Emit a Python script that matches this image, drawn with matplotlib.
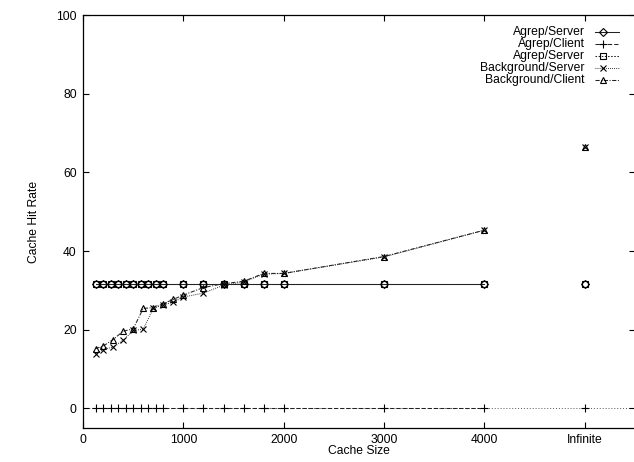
import matplotlib
matplotlib.use('Agg')
import matplotlib.pyplot as plt

plt.rcParams['font.family'] = ['Liberation Sans', 'DejaVu Sans']

# ── Data ──
agrep_sizes = [125, 200, 275, 350, 425, 500, 575, 650, 725, 800,
               1000, 1200, 1400, 1600, 1800, 2000, 3000, 4000]
bg_sizes = [125, 200, 300, 400, 500, 600, 700, 800, 900, 1000,
            1200, 1400, 1600, 1800, 2000, 3000, 4000]
infinite_x = 5000

agrep_server = [31.5] * len(agrep_sizes)
agrep_client = [0.0] * len(agrep_sizes)
agrep_server2 = [31.5] * len(agrep_sizes)
bg_server = [13.9, 14.9, 15.6, 17.3, 19.8, 20.1, 25.4, 26.3, 27.0, 28.3,
             29.3, 31.3, 32.1, 34.1, 34.3, 38.5, 45.3]
bg_client = [15.2, 15.8, 17.5, 19.6, 20.2, 25.4, 25.6, 26.6, 27.7, 28.8,
             30.7, 31.7, 32.3, 34.3, 34.3, 38.6, 45.3]

# values at "Infinite" cache size
inf_values = [31.5, 0.0, 31.5, 66.5, 66.5]

labels = ["Agrep/Server", "Agrep/Client", "Agrep/Server",
          "Background/Server", "Background/Client"]
xticks = [0, 1000, 2000, 3000, 4000, 5000]
xtick_labels = ["0", "1000", "2000", "3000", "4000", "Infinite"]
yticks = [0, 20, 40, 60, 80, 100]

# ── Styles (gnuplot-like) ──
styles = [
    dict(marker='D', ls='-', ms=4),
    dict(marker='+', ls=(0, (4, 2)), ms=5.5),
    dict(marker='s', ls=(0, (1.5, 1.5)), ms=4.8),
    dict(marker='x', ls=(0, (0.8, 1.2)), ms=4.8),
    dict(marker='^', ls=(0, (4, 1.5, 1, 1.5)), ms=5),
]
series = [(agrep_sizes, agrep_server), (agrep_sizes, agrep_client),
          (agrep_sizes, agrep_server2), (bg_sizes, bg_server),
          (bg_sizes, bg_client)]

fs = 8.7

fig = plt.figure(figsize=(6.34, 4.62), dpi=100)
ax = fig.add_axes([83 / 634, 34 / 462, 552 / 634, 413 / 462])

# dotted zero axis
ax.axhline(0, color='#555', lw=0.7, ls=(0, (1, 2)), zorder=1)

for (xs, vals), st in zip(series, styles):
    ax.plot(xs, vals, color='#222', lw=0.75, ls=st['ls'],
            marker=st['marker'], ms=st['ms'], mfc='none', mec='black',
            mew=0.8, zorder=3)

for v, st in zip(inf_values, styles):
    ax.plot([infinite_x], [v], ls='none', marker=st['marker'], ms=st['ms'],
            mfc='none', mec='black', mew=0.8, zorder=3)

ax.set_xlim(0, 5500)
ax.set_ylim(-5, 100)
ax.set_xticks(xticks)
ax.set_xticklabels(xtick_labels)
ax.set_yticks(yticks)
ax.tick_params(direction='in', length=4.5, width=0.8, labelsize=fs,
               top=True, right=True, pad=4.5)
for sp in ax.spines.values():
    sp.set_linewidth(0.9)

ax.set_xlabel("Cache Size", fontsize=fs, labelpad=-1)
ax.set_ylabel("Cache Hit Rate", fontsize=fs, labelpad=12)

# ── Legend (gnuplot style: right-aligned text, sample on the right) ──
for i, (lab, st) in enumerate(zip(labels, styles)):
    y = 0.958 - i * 0.029
    ax.text(0.909, y, lab, transform=ax.transAxes, ha='right', va='center',
            fontsize=fs)
    ax.plot([0.9275, 0.971], [y, y], transform=ax.transAxes, color='#222',
            lw=0.75, ls=st['ls'], clip_on=False)
    ax.plot([0.942], [y], transform=ax.transAxes, ls='none',
            marker=st['marker'], ms=st['ms'], mfc='none', mec='black',
            mew=0.8, clip_on=False)

fig.savefig("out.png", dpi=100, facecolor='white')
plt.close(fig)
